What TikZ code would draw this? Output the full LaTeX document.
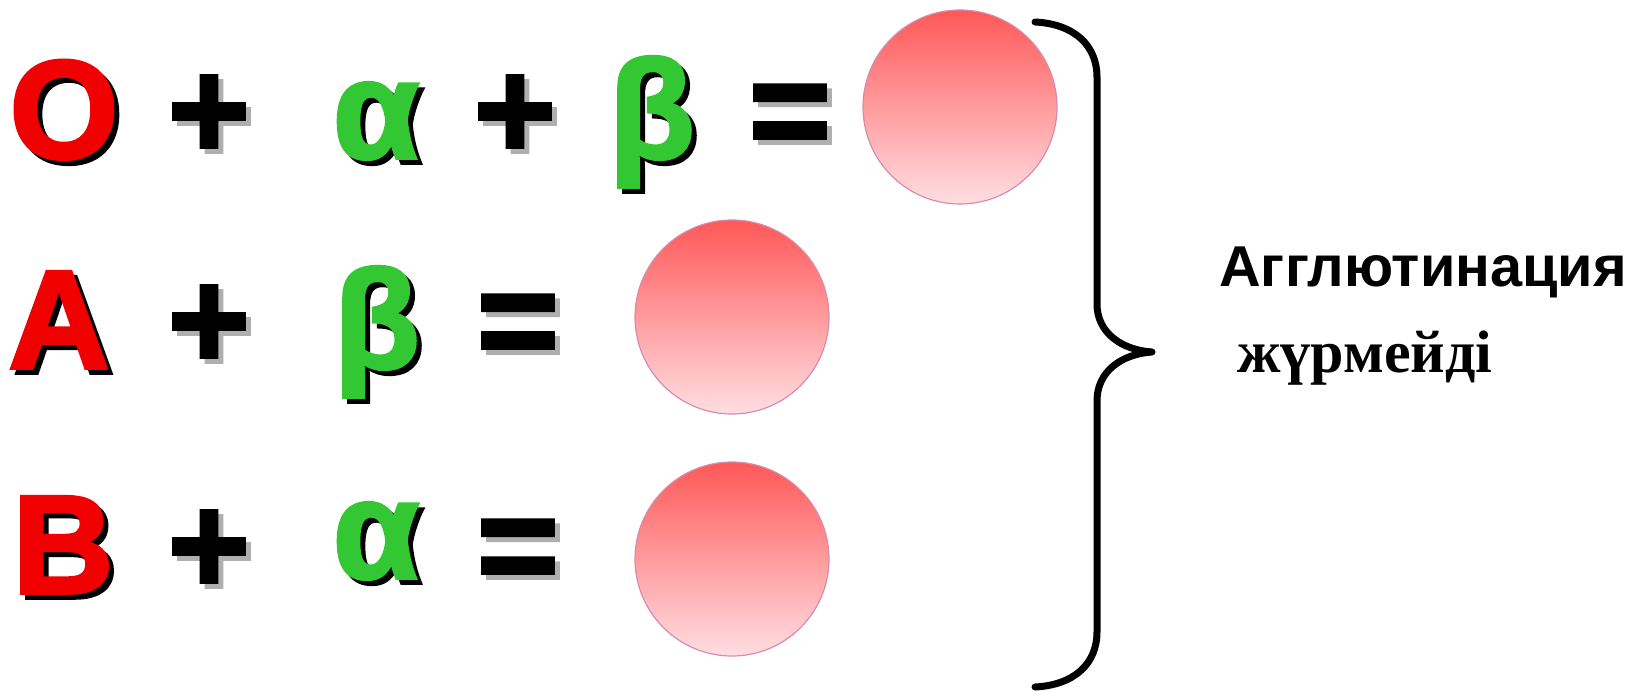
\documentclass[tikz,border=0pt]{standalone}
\usepackage{fontspec}
\newfontfamily\heavy{Liberation Sans Bold}[FakeBold=2.5]
\newfontfamily\sansb{Liberation Sans Bold}
\newfontfamily\serifb{Liberation Serif Bold}
\definecolor{symred}{RGB}{240,0,0}
\definecolor{symgreen}{RGB}{51,200,51}
\definecolor{shgray}{RGB}{175,175,175}
\definecolor{celltop}{RGB}{255,88,88}
\definecolor{cellbot}{RGB}{255,222,226}
\definecolor{celledge}{RGB}{215,140,170}
\newcommand{\glyphsh}[6]{%
  \node[sym, text=#5] (#1s) at (#2+5,#3+5) {#6};
  \node[sym, text=#4] (#1) at (#2,#3) {#6};}
\begin{document}
\begin{tikzpicture}[x=0.5pt,y=-0.5pt,
  sym/.style={font=\heavy\fontsize{70}{70}\selectfont, inner sep=0pt, anchor=base},
  cell/.style={circle, minimum size=97pt, inner sep=0pt, top color=celltop, bottom color=cellbot, draw=celledge, line width=0.6pt},
  brace/.style={line width=3.5pt, line cap=round, line join=round},
  lbl/.style={inner sep=0pt, anchor=base west}]
\fill[white] (0,0) rectangle (1629,691);
\useasboundingbox (0,0) rectangle (1629,691);
% row 1
\glyphsh{O1}{64}{158}{symred}{black}{O}
\glyphsh{P1}{209}{158}{black}{shgray}{+}
\glyphsh{a1}{376}{158}{symgreen}{black}{α}
\glyphsh{P2}{515}{158}{black}{shgray}{+}
\glyphsh{b1}{652}{158}{symgreen}{black}{β}
\glyphsh{E1}{790}{158}{black}{shgray}{=}
\node[cell] (c1) at (960,107) {};
% row 2
\glyphsh{A2}{59}{368}{symred}{black}{A}
\glyphsh{P3}{209}{368}{black}{shgray}{+}
\glyphsh{b2}{377}{368}{symgreen}{black}{β}
\glyphsh{E2}{518}{368}{black}{shgray}{=}
\node[cell] (c2) at (732,317) {};
% row 3
\glyphsh{B3}{63}{593}{symred}{black}{B}
\glyphsh{P4}{209}{593}{black}{shgray}{+}
\glyphsh{a3}{376}{578}{symgreen}{black}{α}
\glyphsh{E3}{518}{593}{black}{shgray}{=}
\node[cell] (c3) at (732,559) {};
% brace
\coordinate (bt) at (1035,22);
\coordinate (bv1) at (1097,77);
\coordinate (bv2) at (1097,304);
\coordinate (tip) at (1152,352);
\coordinate (bv3) at (1097,401);
\coordinate (bv4) at (1097,632);
\coordinate (bb) at (1035,687);
\draw[brace] (bt) .. controls (1075,24) and (1097,46) .. (bv1) -- (bv2)
  .. controls (1097,333) and (1122,350) .. (tip)
  .. controls (1122,354) and (1097,371) .. (bv3) -- (bv4)
  .. controls (1097,663) and (1075,685) .. (bb);
% labels
\node[lbl, font=\sansb\fontsize{28.8}{28.8}\selectfont] (t1) at (1219,286) {Агглютинация};
\node[lbl, font=\serifb\fontsize{30}{30}\selectfont] (t2) at (1237,372) {жүрмейді};
\end{tikzpicture}
\end{document}
